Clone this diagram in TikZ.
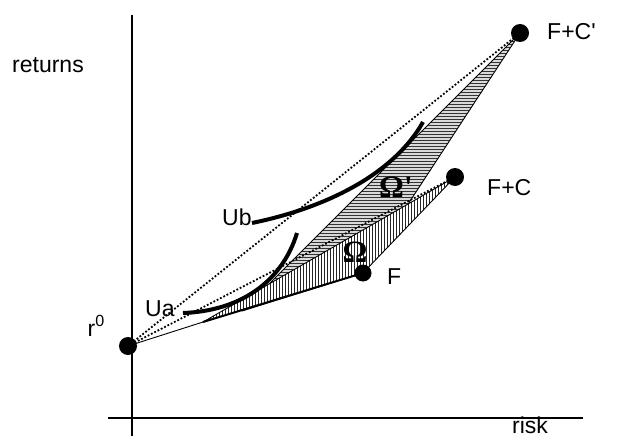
\documentclass[tikz,border=0pt]{standalone}
\usepackage{fontspec}
\setmainfont{Liberation Sans}
\newfontfamily\lsans{Liberation Sans}
\newfontfamily\omegafont{Liberation Serif}
\usetikzlibrary{patterns}
\begin{document}
\begin{tikzpicture}[x=1pt,y=-1pt,
  dot/.style={circle,fill=black,inner sep=0pt,minimum size=18pt},
  lbl/.style={font=\lsans\fontsize{23}{27}\selectfont,inner sep=0pt},
  omega/.style={font=\omegafont\bfseries\fontsize{31}{34}\selectfont,inner sep=0pt},
  axis/.style={line width=1.3pt},
  edge/.style={line width=0.9pt},
  dots/.style={line width=1.8pt,dash pattern=on 1.8pt off 1.9pt},
  util/.style={line width=4pt}
]
\useasboundingbox (0,0) rectangle (623,441);
% axes
\coordinate (yt) at (132,15); \coordinate (yb) at (132,436);
\coordinate (xl) at (108,418); \coordinate (xr) at (583,418);
\draw[axis] (yt) -- (yb);
\draw[axis] (xl) -- (xr);
% key points
\coordinate (pr0) at (128,346);
\coordinate (pF) at (363,273);
\coordinate (pFC) at (455,177);
\coordinate (pFCp) at (520,33);
\coordinate (P0) at (203,322);
\coordinate (Q0) at (242,311);
% Omega' region
\fill[gray!30] (Q0) -- (pFCp) -- (pF) -- cycle;
\fill[pattern=horizontal lines,pattern color=black!80] (Q0) -- (pFCp) -- (pF) -- cycle;
\draw[edge,line join=round] (Q0) -- (pFCp) -- (pF) -- cycle;
% Omega region
\fill[white] (P0) -- (pF) -- (pFC) -- cycle;
\fill[pattern=vertical lines,pattern color=black!85] (P0) -- (pF) -- (pFC) -- cycle;
\draw[edge,line join=round] (P0) -- (pF) -- (pFC) -- cycle;
% lines from r0
\draw[edge] (pr0) -- (P0);
\draw[line width=2pt] (P0) -- (pF);
\draw[dots] (pr0) -- (pFC);
\draw[dots] (pr0) -- (pFCp);
% indifference curves
\coordinate (ua1) at (183,313); \coordinate (ua2) at (297,233);
\coordinate (ub1) at (252,223); \coordinate (ub2) at (423,122);
\draw[util] (ua1) .. controls (240,311) and (282,282) .. (ua2);
\draw[util] (ub1) .. controls (330,207) and (395,172) .. (ub2);
% dots
\node[dot] (r0) at (pr0) {};
\node[dot,minimum size=17pt] (F) at (pF) {};
\node[dot] (FC) at (pFC) {};
\node[dot] (FCp) at (pFCp) {};
% labels
\node[lbl,anchor=base west] (lret) at (12,73) {returns};
\node[lbl,anchor=base west] (lrisk) at (512,433) {risk};
\node[lbl,anchor=base east] (lr0) at (105,336) {r\textsuperscript{0}};
\node[lbl,anchor=base west] (lF) at (387,284) {F};
\node[lbl,anchor=base west] (lFC) at (487,195) {F+C};
\node[lbl,anchor=base west] (lFCp) at (547,40) {F+C'};
\node[lbl,anchor=base west] (lUa) at (145,316) {Ua};
\node[lbl,anchor=base west] (lUb) at (222,225) {Ub};
\node[omega,anchor=base] (lom) at (355,262) {Ω};
\node[omega,anchor=base west] (lomp) at (379,197) {Ω'};
\end{tikzpicture}
\end{document}
